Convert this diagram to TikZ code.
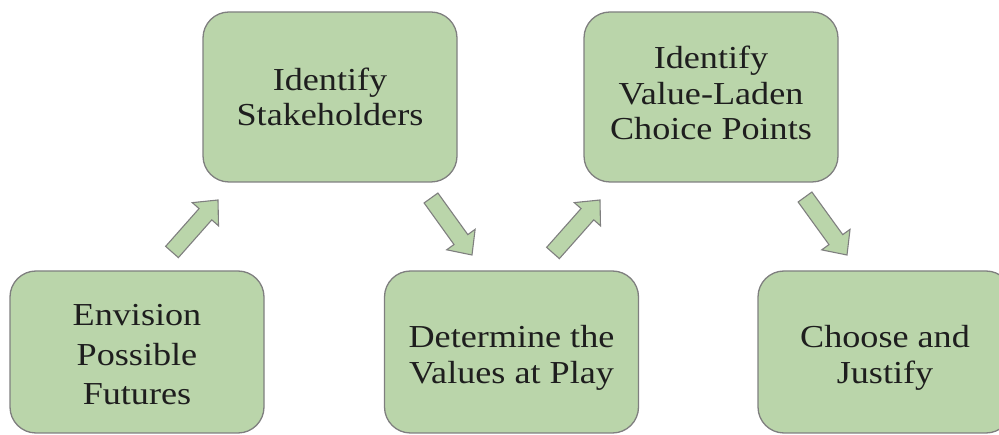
\documentclass[tikz,border=0pt]{standalone}
\usepackage{fontspec}
\setmainfont[FakeStretch=1.13]{Liberation Serif}
\usetikzlibrary{calc}
\definecolor{boxfill}{HTML}{BAD5AA}
\definecolor{boxline}{HTML}{7F7F7F}
\definecolor{inktext}{HTML}{1E1E1E}
\tikzset{
  stepbox/.style={draw=boxline, line width=1.3pt, fill=boxfill, rounded corners=26pt,
    minimum width=254pt, minimum height=#1, inner sep=0pt},
  steptext/.style={text=inktext, align=center, inner sep=0pt,
    font=\fontsize{32}{#1}\selectfont},
  blockarrow/.style={draw=boxline, line width=1.1pt, fill=boxfill, line join=miter}
}
% fat arrow from a tail centre to a tip
\newcommand{\fatarrow}[2]{%
  \coordinate (hb) at ($(#2)!19pt!(#1)$);
  \draw[blockarrow]
    ($(#1)!8.5pt!90:(#2)$) -- ($(hb)!8.5pt!90:(#2)$) -- ($(hb)!17.5pt!90:(#2)$) --
    (#2) --
    ($(hb)!17.5pt!-90:(#2)$) -- ($(hb)!8.5pt!-90:(#2)$) -- ($(#1)!8.5pt!-90:(#2)$) -- cycle;
}
\begin{document}
\begin{tikzpicture}[x=1pt, y=-1pt]
  \useasboundingbox (0,0) rectangle (999,435);

  % step boxes
  \node[stepbox=170pt] (stakebox)    at (330,97)  {};
  \node[stepbox=170pt] (choicebox)   at (711,97)  {};
  \node[stepbox=162pt] (envisionbox) at (137,352) {};
  \node[stepbox=162pt] (valuesbox)   at (511.5,352) {};
  \node[stepbox=162pt] (justifybox)  at (885,352) {};

  % step labels
  \node[steptext=35.5] (stake)    at ($(stakebox.center)+(0,0)$)    {Identify\\Stakeholders};
  \node[steptext=35.5] (choice)   at ($(choicebox.center)+(0,-4)$)  {Identify\\Value-Laden\\Choice Points};
  \node[steptext=39.5] (envision) at ($(envisionbox.center)+(0,3)$) {Envision\\Possible\\Futures};
  \node[steptext=35.5] (values)   at ($(valuesbox.center)+(0,6)$)   {Determine the\\Values at Play};
  \node[steptext=35.5] (justify)  at ($(justifybox.center)+(0,6)$)  {Choose and\\Justify};

  % block arrows between the steps
  \coordinate (a1t) at (172,252); \coordinate (a1h) at (218,200);
  \coordinate (a2t) at (431,198); \coordinate (a2h) at (472,255);
  \coordinate (a3t) at (553,253); \coordinate (a3h) at (600,200);
  \coordinate (a4t) at (805,197); \coordinate (a4h) at (847,255);
  \fatarrow{a1t}{a1h}
  \fatarrow{a2t}{a2h}
  \fatarrow{a3t}{a3h}
  \fatarrow{a4t}{a4h}
\end{tikzpicture}
\end{document}
